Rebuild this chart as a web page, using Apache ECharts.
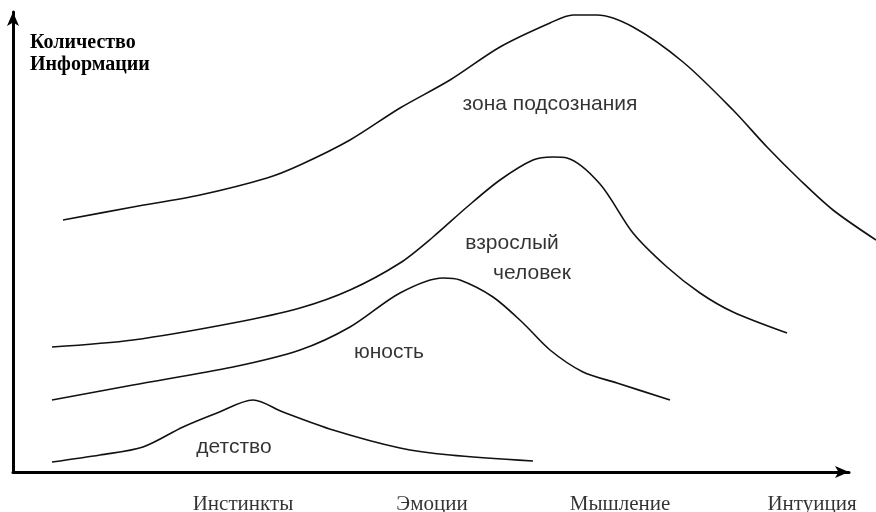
<!DOCTYPE html>
<html>
<head>
<meta charset="utf-8">
<script src="https://cdn.jsdelivr.net/npm/echarts@6/dist/echarts.min.js"></script>
<style>html,body{margin:0;padding:0;background:#fff}#c{width:876px;height:512px}</style>
</head>
<body>
<div id="c"></div>
<script>
// Axis title and stage (category) labels
const yTitle = 'Количество\nИнформации';
const categories = ['Инстинкты', 'Эмоции', 'Мышление', 'Интуиция'];
const categoryX = [230, 419, 607, 799];

// Curves (x along the development axis, y = amount of information)
const subconsciousX = [50, 120, 187, 254, 287, 337, 387, 437, 487, 537, 560, 584, 620, 670, 720, 754, 787, 820, 863];
const subconsciousY = [252, 265, 277, 294, 307, 332, 364, 392, 425, 449, 457, 457, 445, 410, 362, 325, 292, 262, 232];

const adultX = [39, 120, 220, 287, 337, 387, 420, 454, 487, 520, 540, 554, 587, 620, 654, 687, 720, 774];
const adultY = [125, 132, 149, 164, 182, 209, 235, 265, 292, 312, 315, 314, 288, 239, 205, 179, 160, 139];

const youthX = [39, 120, 220, 287, 337, 387, 430, 447, 480, 510, 537, 570, 604, 657];
const youthY = [72, 87, 105, 122, 145, 179, 194, 192, 175, 149, 122, 100, 89, 72];

const childX = [39, 87, 130, 170, 204, 240, 270, 320, 387, 437, 520];
const childY = [10, 17, 25, 45, 59, 72, 60, 42, 24, 17, 11];

// Region labels
const regionLabels = ['зона подсознания', 'взрослый', 'человек', 'юность', 'детство'];
const regionLabelX = [537, 499, 519, 376, 221];
const regionLabelY = [368, 229, 199, 120, 25];

const zip = (xs, ys) => xs.map((x, i) => [x, ys[i]]);

const curveStyle = { color: '#111', width: 1.6 };
function curve(xs, ys) {
  return {
    type: 'line', xAxisIndex: 1, yAxisIndex: 1, data: zip(xs, ys), smooth: 0.3,
    showSymbol: false, symbol: 'none', lineStyle: curveStyle, clip: false, silent: true
  };
}
const hiddenAxis = { show: false };
const axisArrow = {
  show: true, onZero: false, lineStyle: { color: '#000', width: 3 },
  symbol: ['none', 'arrow'], symbolSize: [9, 14]
};

const chart = echarts.init(document.getElementById('c'), null, { renderer: 'canvas' });
chart.setOption({
  animation: false,
  backgroundColor: '#ffffff',
  title: {
    text: yTitle, left: 25, top: 27,
    textStyle: { fontFamily: 'Liberation Serif', fontWeight: 'bold', fontSize: 20, lineHeight: 22, color: '#000' }
  },
  grid: [
    { left: 13, right: 27, top: 12, bottom: 40 },
    { left: 13, right: 0, top: 12, bottom: 40 }
  ],
  xAxis: [
    { type: 'value', gridIndex: 0, min: 0, max: 836, axisLine: axisArrow,
      axisTick: { show: false }, axisLabel: { show: false }, splitLine: { show: false } },
    { type: 'value', gridIndex: 1, min: 0, max: 863, ...hiddenAxis }
  ],
  yAxis: [
    { type: 'value', gridIndex: 0, min: 0, max: 460, axisLine: axisArrow,
      axisTick: { show: false }, axisLabel: { show: false }, splitLine: { show: false } },
    { type: 'value', gridIndex: 1, min: 0, max: 460, ...hiddenAxis }
  ],
  series: [
    curve(subconsciousX, subconsciousY),
    curve(adultX, adultY),
    curve(youthX, youthY),
    curve(childX, childY),
    {
      type: 'scatter', xAxisIndex: 1, yAxisIndex: 1, symbolSize: 0, clip: false, silent: true,
      data: regionLabels.map((t, i) => ({ name: t, value: [regionLabelX[i], regionLabelY[i]] })),
      label: { show: true, position: 'inside', formatter: p => p.name, fontFamily: 'Liberation Sans', fontSize: 21, color: '#000' }
    },
    {
      type: 'scatter', xAxisIndex: 1, yAxisIndex: 1, symbolSize: 0, clip: false, silent: true,
      data: categories.map((t, i) => ({ name: t, value: [categoryX[i], 0] })),
      label: { show: true, position: 'inside', offset: [0, 32], formatter: p => p.name, fontFamily: 'Liberation Serif', fontSize: 21, color: '#000' }
    }
  ]
});
</script>
</body>
</html>
